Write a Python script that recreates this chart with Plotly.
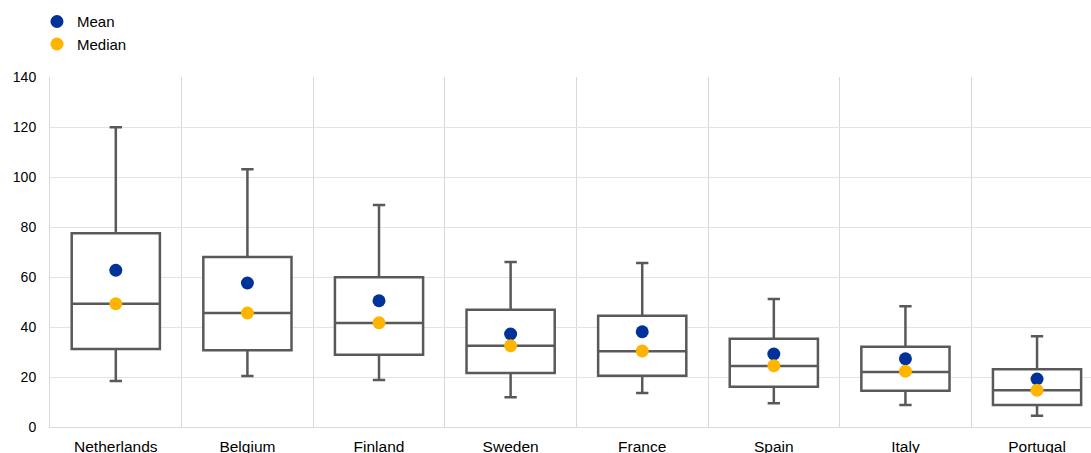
import plotly.graph_objects as go

categories = ["Netherlands", "Belgium", "Finland", "Sweden", "France", "Spain", "Italy", "Portugal"]
whisker_low = [18.4, 20.4, 18.8, 11.9, 13.6, 9.5, 8.8, 4.5]
q1 = [31.2, 30.7, 28.9, 21.6, 20.5, 16.1, 14.5, 8.8]
median = [49.3, 45.6, 41.6, 32.5, 30.3, 24.4, 22.0, 14.7]
q3 = [77.5, 68.0, 59.9, 46.9, 44.5, 35.3, 32.1, 23.1]
whisker_high = [119.9, 103.1, 88.8, 66.0, 65.6, 51.2, 48.3, 36.3]
mean = [62.7, 57.6, 50.5, 37.2, 38.1, 29.2, 27.3, 19.2]
median_dot = [49.3, 45.6, 41.7, 32.5, 30.4, 24.5, 22.3, 14.7]

fig = go.Figure()
fig.add_trace(go.Box(
    x=categories, q1=q1, median=median, q3=q3,
    lowerfence=whisker_low, upperfence=whisker_high,
    boxpoints=False, width=0.67, whiskerwidth=0.14,
    fillcolor="white", line=dict(color="#595959", width=2.5),
    showlegend=False, hoverinfo="skip",
))
fig.add_trace(go.Scatter(
    x=categories, y=mean, mode="markers", name="Mean",
    marker=dict(color="#003299", size=13),
))
fig.add_trace(go.Scatter(
    x=categories, y=median_dot, mode="markers", name="Median",
    marker=dict(color="#FFB400", size=13),
))

fig.update_layout(
    width=1091, height=453,
    margin=dict(l=50, r=0, t=77, b=26),
    paper_bgcolor="white", plot_bgcolor="white",
    font=dict(family="Liberation Sans, Arial, sans-serif", color="#000000", size=14),
    legend=dict(x=-0.0125, y=1.205, xanchor="left", yanchor="top",
                font=dict(size=15), itemwidth=30, tracegroupgap=0,
                bgcolor="rgba(0,0,0,0)"),
    xaxis=dict(type="category", range=[-0.5, 7.41], tickson="boundaries",
               showgrid=True, gridcolor="#d9d9d9", gridwidth=1,
               showline=True, linecolor="#d9d9d9", linewidth=1, automargin=False,
               ticks="", ticklabelstandoff=5, tickfont=dict(size=15.5), fixedrange=True),
    yaxis=dict(range=[0, 140], dtick=20, showgrid=True, gridcolor="#e3e3e3", gridwidth=1,
               zeroline=False, showline=True, linecolor="#d9d9d9", linewidth=1, automargin=False,
               ticks="", ticklabelstandoff=10, tickfont=dict(size=14), fixedrange=True),
)

fig.write_html("out.html", config={"displayModeBar": False},
               post_script="document.body.style.margin='0';document.body.style.overflow='hidden';")
